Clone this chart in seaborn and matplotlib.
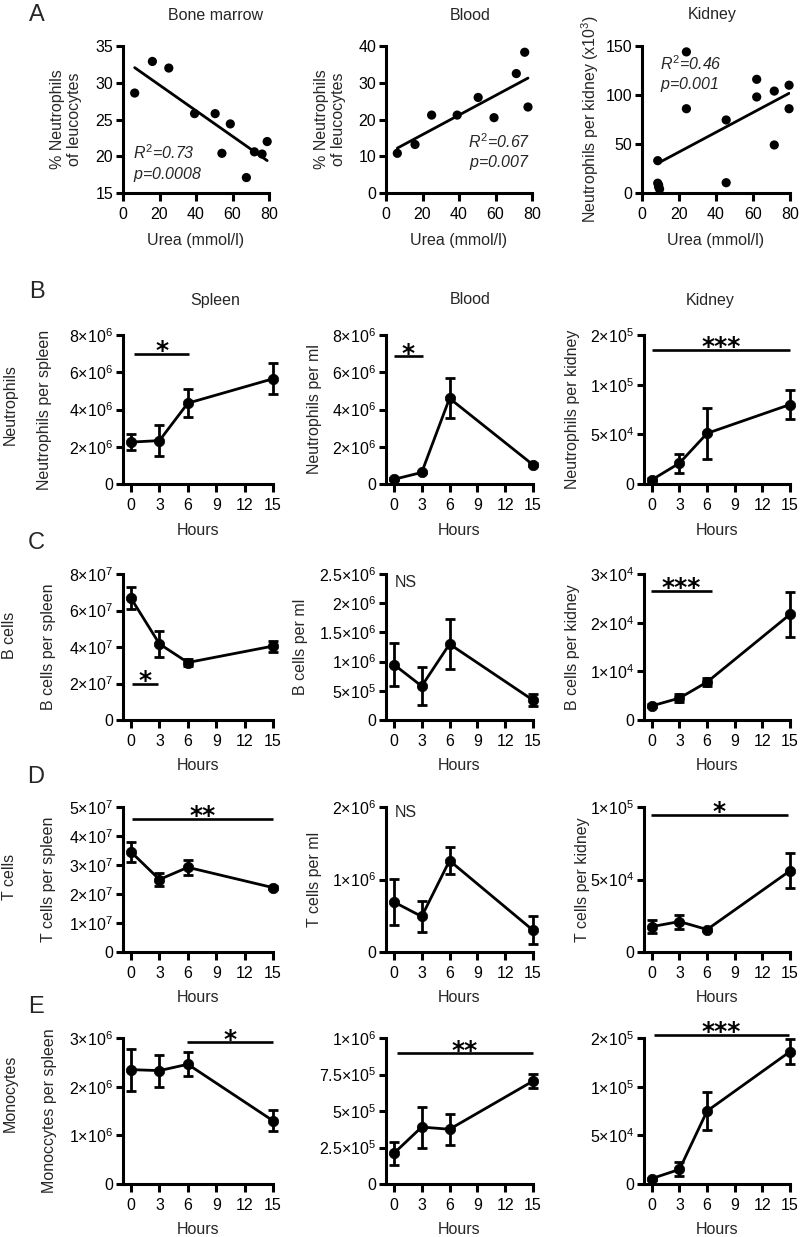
import numpy as np
import pandas as pd
import matplotlib
matplotlib.use("Agg")
import matplotlib.pyplot as plt
import seaborn as sns
from matplotlib.ticker import FuncFormatter, FixedLocator

# ------------------------------------------------------------------ data
# Panel A: urea vs neutrophils
bm_urea = [6.4, 16.1, 25.1, 39.2, 50.5, 54.2, 58.8, 67.6, 72.0, 76.2, 79.0]
bm_neut = [28.6, 32.9, 32.0, 25.8, 25.8, 20.4, 24.4, 17.1, 20.6, 20.3, 22.0]
bl_urea = [6.2, 15.9, 25.0, 39.0, 50.5, 59.2, 71.4, 76.0, 77.8]
bl_neut = [10.8, 13.2, 21.2, 21.2, 26.0, 20.5, 32.5, 38.3, 23.4]
kd_urea = [8.5, 8.5, 9.0, 9.0, 9.5, 24.0, 24.0, 45.5, 45.5, 62.0, 62.0, 71.5, 71.5, 79.5, 79.5]
kd_neut = [33, 10, 8, 6, 4, 144, 86, 74.5, 10.5, 116, 98, 104, 49, 110, 86]
a_titles = ["Bone marrow", "Blood", "Kidney"]
a_stats = ["$R^{2}$=0.73\n$p$=0.0008", "$R^{2}$=0.67\n$p$=0.007", "$R^{2}$=0.46\n$p$=0.001"]

# Panels B-E: time courses (mean, SEM)
hours = [0, 3, 6, 15]
neut_spleen = [2.25e6, 2.33e6, 4.34e6, 5.65e6]
neut_spleen_sem = [0.42e6, 0.82e6, 0.75e6, 0.83e6]
neut_blood = [0.25e6, 0.62e6, 4.6e6, 1.03e6]
neut_blood_sem = [0.05e6, 0.05e6, 1.08e6, 0.08e6]
neut_kidney = [4.2e3, 2.1e4, 5.1e4, 8.0e4]
neut_kidney_sem = [1.5e3, 0.95e4, 2.6e4, 1.5e4]
bcell_spleen = [6.67e7, 4.17e7, 3.15e7, 4.05e7]
bcell_spleen_sem = [0.6e7, 0.7e7, 0.2e7, 0.3e7]
bcell_blood = [0.95e6, 0.58e6, 1.3e6, 0.34e6]
bcell_blood_sem = [0.36e6, 0.32e6, 0.43e6, 0.1e6]
bcell_kidney = [2.9e3, 4.5e3, 7.8e3, 2.17e4]
bcell_kidney_sem = [3e2, 0.8e3, 0.8e3, 0.46e4]
tcell_spleen = [3.45e7, 2.5e7, 2.92e7, 2.22e7]
tcell_spleen_sem = [0.35e7, 0.23e7, 0.25e7, 0.06e7]
tcell_blood = [0.69e6, 0.49e6, 1.26e6, 0.3e6]
tcell_blood_sem = [0.32e6, 0.21e6, 0.19e6, 0.19e6]
tcell_kidney = [1.75e4, 2.1e4, 1.55e4, 5.6e4]
tcell_kidney_sem = [0.45e4, 0.48e4, 0.1e4, 1.2e4]
mono_spleen = [2.35e6, 2.33e6, 2.46e6, 1.3e6]
mono_spleen_sem = [0.43e6, 0.33e6, 0.25e6, 0.22e6]
mono_blood = [0.21e6, 0.39e6, 0.375e6, 0.705e6]
mono_blood_sem = [0.08e6, 0.14e6, 0.105e6, 0.048e6]
mono_kidney = [5.6e3, 1.5e4, 7.5e4, 1.72e5]
mono_kidney_sem = [1e3, 0.72e4, 1.95e4, 2.6e4]

hour_ticks = [0, 3, 6, 9, 12, 15]
ticks_neut_spleen = [0, 2e6, 4e6, 6e6, 8e6]
ticks_neut_blood = [0, 2e6, 4e6, 6e6, 8e6]
ticks_neut_kidney = [0, 5e4, 1e5, 2e5]
ticks_bcell_spleen = [0, 2e7, 4e7, 6e7, 8e7]
ticks_bcell_blood = [0, 5e5, 1e6, 1.5e6, 2e6, 2.5e6]
ticks_bcell_kidney = [0, 1e4, 2e4, 3e4]
ticks_tcell_spleen = [0, 1e7, 2e7, 3e7, 4e7, 5e7]
ticks_tcell_blood = [0, 1e6, 2e6]
ticks_tcell_kidney = [0, 5e4, 1e5]
ticks_mono_spleen = [0, 1e6, 2e6, 3e6]
ticks_mono_blood = [0, 2.5e5, 5e5, 7.5e5, 1e6]
ticks_mono_kidney = [0, 5e4, 1e5, 2e5]

# significance bars: (start h, end h, height, label)
sig_neut = [(0.35, 6.15, 7.0e6, "*"), (0.0, 3.1, 6.85e6, "*"), (0.0, 15.0, 1.7e5, "***")]
sig_bcell = [(0.1, 2.8, 2.0e7, "*"), None, (-0.1, 6.5, 2.66e4, "***")]
sig_tcell = [(0.1, 15.0, 4.59e7, "**"), None, (-0.1, 14.8, 9.45e4, "*")]
sig_mono = [(5.9, 15.0, 2.91e6, "*"), (0.3, 15.0, 0.894e6, "**"), (0.2, 14.9, 2.06e5, "***")]
ns_bcell = 2.35e6
ns_tcell = 1.92e6

row_names = ["Neutrophils", "B cells", "T cells", "Monocytes"]
organ_titles = ["Spleen", "Blood", "Kidney"]

# ------------------------------------------------------------------ style
sns.set_style("ticks")
plt.rcParams["font.family"] = ["Liberation Sans", "DejaVu Sans"]
plt.rcParams["mathtext.fontset"] = "custom"
plt.rcParams["mathtext.rm"] = "Liberation Sans"
plt.rcParams["mathtext.it"] = "Liberation Sans:italic"
plt.rcParams["mathtext.bf"] = "Liberation Sans:bold"
FS = 11.5
LW = 2.0

W, H = 800, 1237
fig = plt.figure(figsize=(W / 100, H / 100), dpi=100)
fig.patch.set_facecolor("white")


def add_ax(l, r, t, b):
    return fig.add_axes([l / W, 1 - b / H, (r - l) / W, (b - t) / H])


def sci_label(v, pos=None):
    if v == 0:
        return "0"
    e = int(np.floor(np.log10(abs(v)) + 1e-9))
    m = v / 10 ** e
    return f"{m:g}×10$^{{{e}}}$"


def seg_fwd(y):
    y = np.asarray(y, dtype=float)
    return np.where(y <= 1e5, y, 1e5 + (y - 1e5) * 0.5)


def seg_inv(u):
    u = np.asarray(u, dtype=float)
    return np.where(u <= 1e5, u, 1e5 + (u - 1e5) * 2.0)


def style_ax(ax):
    for s in ["top", "right"]:
        ax.spines[s].set_visible(False)
    for s in ["left", "bottom"]:
        ax.spines[s].set_linewidth(2.2)
        ax.spines[s].set_color("black")
    ax.tick_params(axis="y", length=5, width=2.2, pad=2, labelsize=FS, colors="black")
    ax.tick_params(axis="x", length=5.5, width=2.2, pad=4.5, labelsize=FS, colors="black")
    ax.set_facecolor("none")


def set_ylabel_px(ax, text, px, left, width):
    ax.set_ylabel(text, fontsize=FS, va="center", ha="center")
    ax.yaxis.set_label_coords((px - left) / width, 0.5)


# ------------------------------------------------------------------ row A
colsA = [(123, 269), (386, 532), (642, 790)]
rowA = (46, 193)
a_x = [bm_urea, bl_urea, kd_urea]
a_y = [bm_neut, bl_neut, kd_neut]
a_ylim = [(15, 35), (0, 40), (0, 150)]
a_yticks = [[15, 20, 25, 30, 35], [0, 10, 20, 30, 40], [0, 50, 100, 150]]
a_ylabels = ["% Neutrophils\nof leucocytes", "% Neutrophils\nof leucocytes",
             "Neutrophils per kidney (x10$^{3}$)"]
a_ylab_px = [66, 330, 590]
a_stat_pos = [(5.5, 19.0, "left"), (79.0, 11.0, "right"), (9.8, 121.0, "left")]

for i in range(3):
    l, r = colsA[i]
    ax = add_ax(l, r, rowA[0], rowA[1])
    df = pd.DataFrame({"urea": a_x[i], "val": a_y[i]})
    sns.scatterplot(data=df, x="urea", y="val", ax=ax, color="black", s=44,
                    edgecolor="none", clip_on=False, zorder=3)
    sns.regplot(data=df, x="urea", y="val", ax=ax, scatter=False, ci=None,
                color="black", line_kws={"lw": 2.0})
    ax.set_xlim(0, 80)
    ax.set_ylim(*a_ylim[i])
    ax.set_xticks([0, 20, 40, 60, 80])
    ax.set_yticks(a_yticks[i])
    style_ax(ax)
    ax.set_xlabel("Urea (mmol/l)", fontsize=FS, va="center")
    ax.xaxis.set_label_coords(0.5, -(240 - rowA[1]) / (rowA[1] - rowA[0]))
    set_ylabel_px(ax, a_ylabels[i], a_ylab_px[i], l, r - l)
    sx, sy, ha = a_stat_pos[i]
    ax.text(sx, sy, a_stats[i], fontsize=FS, style="italic", ha=ha, va="center",
            linespacing=1.15)
    fig.text([215, 470, 712][i] / W, 1 - 15 / H, a_titles[i], fontsize=FS,
             ha="center", va="center")

# ------------------------------------------------------------------ rows B-E
colsT = [(123, 273), (386, 533), (644, 790)]
rowsT = [(335, 484), (574, 720), (807, 952), (1038, 1184)]
xlabel_off = 46

panels = [
    [(neut_spleen, neut_spleen_sem, ticks_neut_spleen, False, "Neutrophils per spleen", 45),
     (neut_blood, neut_blood_sem, ticks_neut_blood, False, "Neutrophils per ml", 315),
     (neut_kidney, neut_kidney_sem, ticks_neut_kidney, True, "Neutrophils per kidney", 573)],
    [(bcell_spleen, bcell_spleen_sem, ticks_bcell_spleen, False, "B cells per spleen", 48),
     (bcell_blood, bcell_blood_sem, ticks_bcell_blood, False, "B cells per ml", 300),
     (bcell_kidney, bcell_kidney_sem, ticks_bcell_kidney, False, "B cells per kidney", 573)],
    [(tcell_spleen, tcell_spleen_sem, ticks_tcell_spleen, False, "T cells per spleen", 48),
     (tcell_blood, tcell_blood_sem, ticks_tcell_blood, False, "T cells per ml", 314),
     (tcell_kidney, tcell_kidney_sem, ticks_tcell_kidney, False, "T cells per kidney", 582)],
    [(mono_spleen, mono_spleen_sem, ticks_mono_spleen, False, "Monoccytes per spleen", 50),
     (mono_blood, mono_blood_sem, ticks_mono_blood, False, None, None),
     (mono_kidney, mono_kidney_sem, ticks_mono_kidney, True, None, None)],
]
sigs = [sig_neut, sig_bcell, sig_tcell, sig_mono]
row_label_y = [405, 635, 877, 1093]

for ri in range(4):
    t, b = rowsT[ri]
    for ci in range(3):
        means, sems, yt, seg, ylab, ylab_px = panels[ri][ci]
        l, r = colsT[ci]
        ax = add_ax(l, r, t, b)
        if seg:
            ax.set_yscale("function", functions=(seg_fwd, seg_inv))
        df = pd.DataFrame({"Hours": hours, "val": means})
        sns.lineplot(data=df, x="Hours", y="val", ax=ax, color="black", linewidth=LW,
                     marker="o", markersize=7.5, markeredgecolor="black",
                     markeredgewidth=0.5, clip_on=False, zorder=4)
        eb = ax.errorbar(hours, means, yerr=sems, fmt="none", ecolor="black",
                         elinewidth=LW, capsize=3.8, capthick=LW, zorder=3)
        for ch in eb.get_children():
            ch.set_clip_on(False)
        ax.set_xlim(-0.85, 15)
        ax.set_ylim(0, yt[-1])
        ax.xaxis.set_major_locator(FixedLocator(hour_ticks))
        ax.yaxis.set_major_locator(FixedLocator(yt))
        ax.yaxis.set_major_formatter(FuncFormatter(sci_label))
        ax.yaxis.set_minor_locator(FixedLocator([]))
        style_ax(ax)
        ax.set_xlabel("Hours", fontsize=FS, va="center")
        ax.xaxis.set_label_coords(0.5, -xlabel_off / (b - t))
        if ylab:
            set_ylabel_px(ax, ylab, ylab_px, l, r - l)
        else:
            ax.set_ylabel("")
        sg = sigs[ri][ci]
        if sg is not None:
            x0, x1, yy, lab = sg
            ax.plot([x0, x1], [yy, yy], color="black", lw=1.9, clip_on=False,
                    solid_capstyle="butt")
            ax.annotate(lab, xy=((x0 + x1) / 2, yy), xytext=(0, -3),
                        textcoords="offset points", ha="center", va="baseline",
                        fontsize=18, fontweight="bold", family="DejaVu Sans",
                        color="black", annotation_clip=False)
        if ri == 1 and ci == 1:
            ax.text(0.1, ns_bcell, "NS", fontsize=FS, ha="left", va="center")
        if ri == 2 and ci == 1:
            ax.text(0.1, ns_tcell, "NS", fontsize=FS, ha="left", va="center")
    fig.text(10 / W, 1 - row_label_y[ri] / H, row_names[ri], fontsize=FS,
             rotation=90, ha="center", va="center")

for ci, xpx in enumerate([215, 470, 710]):
    fig.text(xpx / W, 1 - 300 / H, organ_titles[ci], fontsize=FS, ha="center", va="center")

for lab, (xp, yp) in zip("ABCDE", [(37, 15), (37, 292), (36, 543), (36, 777), (36, 1007)]):
    fig.text(xp / W, 1 - yp / H, lab, fontsize=17, ha="center", va="center")

fig.savefig("out.png", dpi=100, facecolor="white")
